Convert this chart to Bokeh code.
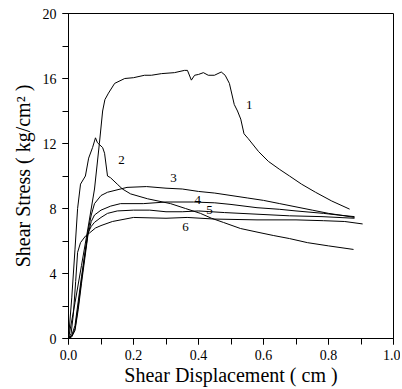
from bokeh.plotting import figure
from bokeh.models import SingleIntervalTicker, Range1d, ColumnDataSource, CustomJSTickFormatter
from bokeh.core.properties import value
from bokeh.embed import file_html
from bokeh.resources import INLINE

# ---- data ----
x1 = [0, 0.02, 0.04, 0.06, 0.08, 0.095, 0.105, 0.112, 0.123, 0.142, 0.173, 0.2, 0.234, 0.255, 0.286,
      0.326, 0.357, 0.366, 0.378, 0.388, 0.4, 0.415, 0.43, 0.449, 0.47, 0.482, 0.495, 0.51, 0.52, 0.53,
      0.54, 0.553, 0.585, 0.615, 0.65, 0.68, 0.717, 0.76, 0.81, 0.865]
y1 = [0, 2.2, 4.5, 6.8, 9.2, 12.0, 14.0, 14.7, 15.1, 15.7, 16.0, 16.05, 16.2, 16.2, 16.3,
      16.36, 16.5, 16.5, 15.9, 16.2, 16.25, 16.36, 16.2, 16.2, 16.4, 16.2, 15.7, 14.4, 14.0, 13.5,
      12.6, 12.3, 11.5, 10.9, 10.4, 10.0, 9.5, 9.0, 8.46, 7.96]

x2 = [0, 0.01, 0.02, 0.028, 0.037, 0.052, 0.062, 0.074, 0.083, 0.089, 0.105, 0.111, 0.12, 0.129,
      0.15, 0.166, 0.191, 0.243, 0.314, 0.36, 0.406, 0.44, 0.477, 0.529, 0.58, 0.63, 0.68, 0.735,
      0.8, 0.877]
y2 = [0, 2.5, 5.5, 8.0, 9.5, 10.0, 11.1, 11.75, 12.35, 12.05, 11.75, 11.4, 10.0, 9.9,
      9.5, 9.2, 8.9, 8.6, 8.3, 8.0, 7.7, 7.4, 7.14, 6.77, 6.55, 6.34, 6.15, 5.9,
      5.7, 5.48]

x3 = [0, 0.01, 0.02, 0.03, 0.04, 0.05, 0.06, 0.07, 0.08, 0.1, 0.12, 0.14, 0.18, 0.24, 0.3, 0.35,
      0.4, 0.45, 0.5, 0.55, 0.6, 0.65, 0.7, 0.75, 0.8, 0.85, 0.88]
y3 = [0, 0.2, 0.8, 2.3, 3.8, 5.2, 6.6, 7.6, 8.3, 8.8, 9.0, 9.1, 9.3, 9.35, 9.25, 9.2,
      9.05, 8.95, 8.8, 8.65, 8.5, 8.3, 8.1, 7.9, 7.7, 7.55, 7.45]

x4 = [0, 0.01, 0.02, 0.03, 0.04, 0.05, 0.06, 0.07, 0.08, 0.1, 0.13, 0.16, 0.23, 0.3, 0.385, 0.45,
      0.5, 0.58, 0.65, 0.7, 0.785, 0.83, 0.88]
y4 = [0, 0.1, 0.5, 1.8, 3.4, 4.9, 6.4, 7.2, 7.6, 7.9, 8.15, 8.3, 8.3, 8.4, 8.4, 8.35,
      8.25, 8.05, 7.95, 7.85, 7.7, 7.6, 7.5]

x5 = [0, 0.01, 0.02, 0.03, 0.04, 0.05, 0.06, 0.07, 0.08, 0.1, 0.12, 0.15, 0.2, 0.25, 0.3, 0.35,
      0.4, 0.48, 0.58, 0.68, 0.78, 0.88]
y5 = [0, 0.15, 0.6, 2.0, 3.6, 5.1, 6.5, 6.9, 7.15, 7.45, 7.7, 7.85, 7.9, 7.9, 7.8, 7.8,
      7.85, 7.75, 7.65, 7.55, 7.5, 7.4]

x6 = [0, 0.008, 0.015, 0.022, 0.028, 0.037, 0.052, 0.065, 0.083, 0.1, 0.135, 0.2, 0.3, 0.365,
      0.45, 0.58, 0.7, 0.785, 0.85, 0.905]
y6 = [0, 0.3, 1.5, 3.5, 5.3, 5.9, 6.3, 6.5, 6.8, 6.95, 7.2, 7.45, 7.4, 7.45,
      7.35, 7.3, 7.3, 7.25, 7.2, 7.05]

series_x = [x1, x2, x3, x4, x5, x6]
series_y = [y1, y2, y3, y4, y5, y6]

label_text = ["1", "2", "3", "4", "5", "6"]
label_x = [0.556, 0.163, 0.323, 0.398, 0.434, 0.36]
label_y = [14.4, 11.0, 9.85, 8.55, 7.9, 6.85]

x_title = "Shear Displacement ( cm )"
y_title = "Shear Stress ( kg/cm\u00b2 )"

SERIF = "'Liberation Serif', serif"

p = figure(width=400, height=389, output_backend="svg", toolbar_location=None,
           x_range=Range1d(0, 1.0), y_range=Range1d(0, 20),
           min_border_left=68, min_border_right=7, min_border_top=13, min_border_bottom=51)
p.grid.visible = False
p.outline_line_color = "black"
p.outline_line_width = 1

for xs, ys in zip(series_x, series_y):
    p.line(xs, ys, line_color="black", line_width=1)

src = ColumnDataSource(dict(x=label_x, y=label_y, t=label_text))
p.text(x="x", y="y", text="t", source=src, text_font=value(SERIF), text_font_size="13px",
       text_align="center", text_baseline="middle", text_color="black")

p.xaxis.ticker = SingleIntervalTicker(interval=0.2, num_minor_ticks=2)
p.yaxis.ticker = SingleIntervalTicker(interval=4, num_minor_ticks=2)
p.xaxis.formatter = CustomJSTickFormatter(code="return tick.toFixed(1);")

for ax in (p.xaxis[0], p.yaxis[0]):
    ax.axis_line_color = "black"
    ax.major_tick_line_color = "black"
    ax.minor_tick_line_color = "black"
    ax.major_tick_out = 6
    ax.major_tick_in = 0
    ax.minor_tick_out = 6
    ax.minor_tick_in = 0
    ax.major_label_text_font = SERIF
    ax.major_label_text_font_size = "14px"
    ax.major_label_text_color = "black"
    ax.axis_label_text_font = SERIF
    ax.axis_label_text_font_size = "20px"
    ax.axis_label_text_font_style = "normal"
    ax.axis_label_text_color = "black"
    ax.major_label_standoff = 6

p.xaxis.major_label_standoff = 5
p.xaxis.axis_label = x_title
p.yaxis.axis_label = y_title
p.xaxis.axis_label_standoff = 1
p.yaxis.axis_label_standoff = 6

open("out.html", "w").write(file_html(p, INLINE))
